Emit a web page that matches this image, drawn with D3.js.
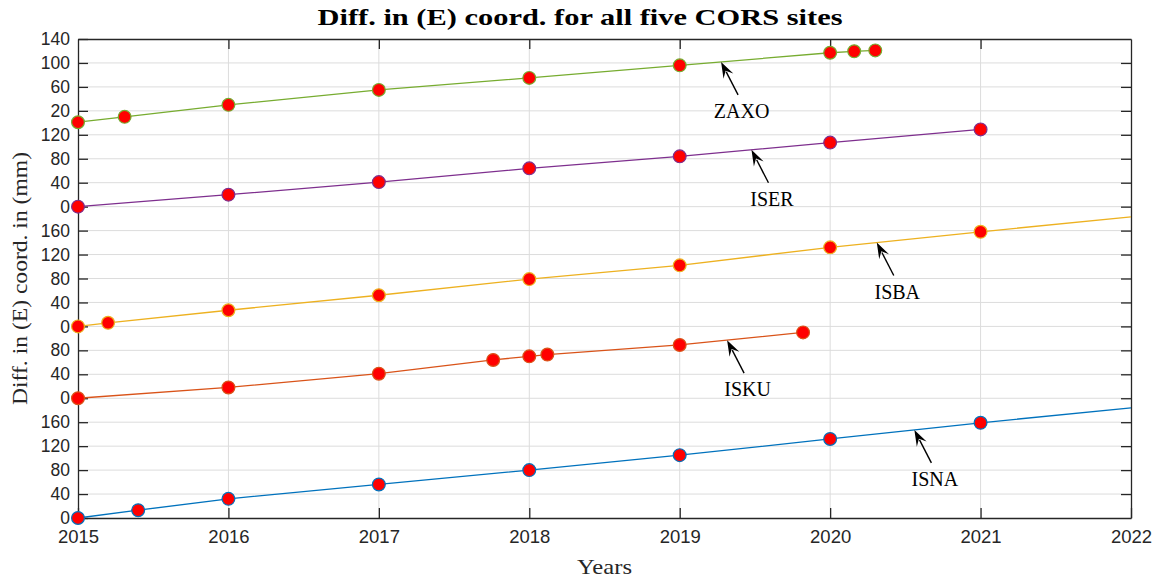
<!DOCTYPE html>
<html>
<head>
<meta charset="utf-8">
<script src="https://cdn.jsdelivr.net/npm/d3@7"></script>
<style>
  html, body { margin: 0; padding: 0; background: #fff; }
  svg { display: block; }
</style>
</head>
<body>
<svg id="chart" width="1161" height="578"></svg>
<script>
// Stacked E-coordinate differences for the five CORS sites.
// Each site sits on a shared y axis, shifted up by a fixed offset (mm).

const siteNames   = ['ISNA', 'ISKU', 'ISBA', 'ISER', 'ZAXO'];
const siteOffsets = [0, 200, 320, 520, 660];
const siteColours = ['#0072BD', '#D95319', '#EDB120', '#7E2F8E', '#77AC30'];

const isnaYears = [2015, 2015.4, 2016, 2017, 2018, 2019, 2020, 2021];
const isnaE     = [0, 13, 32, 56, 80, 105, 132, 159];

const iskuYears = [2015, 2016, 2017, 2017.76, 2018, 2018.12, 2019, 2019.82];
const iskuE     = [0, 18, 41, 64, 70, 73, 89, 110];

const isbaYears = [2015, 2015.2, 2016, 2017, 2018, 2019, 2020, 2021];
const isbaE     = [0, 6, 27, 52, 79, 102, 132, 158];

const iserYears = [2015, 2016, 2017, 2018, 2019, 2020, 2021];
const iserE     = [0, 20, 41, 64, 84, 107, 129];

const zaxoYears = [2015, 2015.31, 2016, 2017, 2018, 2019, 2020, 2020.16, 2020.3];
const zaxoE     = [1, 10, 30, 55, 75, 96, 117, 119.5, 121];

// trend continues to the end of the x range for these two sites
const trendEndYear = 2022;
const trendEnd     = { ISNA: 184, ISBA: 183 };

// y tick labels, bottom to top (one every 40 mm of offset space)
const yTickLabels = [0, 40, 80, 120, 160, 0, 40, 80, 0, 40, 80, 120, 160,
                     0, 40, 80, 120, 20, 60, 100, 140];
const xTickYears  = [2015, 2016, 2017, 2018, 2019, 2020, 2021, 2022];

// arrow annotations: tip year on each site's line
const noteSites = ['ZAXO', 'ISER', 'ISBA', 'ISKU', 'ISNA'];
const noteYears = [2019.275, 2019.477, 2020.31, 2019.315, 2020.56];

const W = 1161, H = 578;
const m = { top: 39, right: 30, bottom: 60, left: 78 };
const iw = W - m.left - m.right;
const ih = H - m.top - m.bottom;
const ink = '#262626';
const serif = '"Liberation Serif", "Times New Roman", serif';

const svg = d3.select('#chart');
const g = svg.append('g').attr('transform', `translate(${m.left},${m.top})`);

const x = d3.scaleLinear().domain([2015, 2022]).range([0, iw]);
const y = d3.scaleLinear().domain([0, 800]).range([ih, 0]);
const yTicks = d3.range(0, 801, 40);

const rawYears = [isnaYears, iskuYears, isbaYears, iserYears, zaxoYears];
const rawE     = [isnaE, iskuE, isbaE, iserE, zaxoE];

const sites = siteNames.map((name, i) => {
  const pts = rawYears[i].map((t, j) => ({ t, v: rawE[i][j] + siteOffsets[i] }));
  const line = pts.slice();
  if (trendEnd[name] != null) line.push({ t: trendEndYear, v: trendEnd[name] + siteOffsets[i] });
  return { name, colour: siteColours[i], pts, line };
});

// grid
g.append('g').selectAll('line').data(yTicks.slice(1, -1)).join('line')
  .attr('x1', 0).attr('x2', iw)
  .attr('y1', d => y(d)).attr('y2', d => y(d))
  .attr('stroke', '#dcdcdc').attr('stroke-width', 1);
g.append('g').selectAll('line').data(xTickYears.slice(1, -1)).join('line')
  .attr('y1', 0).attr('y2', ih)
  .attr('x1', d => x(d)).attr('x2', d => x(d))
  .attr('stroke', '#dcdcdc').attr('stroke-width', 1);

// axes (ticks point inward, box on all four sides)
const tickLen = 10;
const yAxis = d3.axisLeft(y).tickValues(yTicks)
  .tickFormat((d, i) => yTickLabels[i]).tickSizeInner(-tickLen).tickSizeOuter(0).tickPadding(8);
const yAxisR = d3.axisRight(y).tickValues(yTicks.slice(1, -1))
  .tickFormat('').tickSizeInner(-tickLen).tickSizeOuter(0);
const xAxis = d3.axisBottom(x).tickValues(xTickYears).tickFormat(d3.format('d'))
  .tickSizeInner(-tickLen).tickSizeOuter(0).tickPadding(12);
const xAxisT = d3.axisTop(x).tickValues(xTickYears.slice(1, -1))
  .tickFormat('').tickSizeInner(-tickLen).tickSizeOuter(0);

function styleAxis(sel, size) {
  sel.select('.domain').attr('stroke', ink).attr('stroke-width', 1.3);
  sel.selectAll('.tick line').attr('stroke', ink).attr('stroke-width', 1.3);
  sel.selectAll('.tick text').attr('fill', ink)
    .attr('font-family', '"Liberation Sans", Arial, sans-serif').attr('font-size', size);
}

g.append('g').call(yAxis).call(s => styleAxis(s, 17.5));
g.append('g').attr('transform', `translate(${iw},0)`).call(yAxisR).call(s => styleAxis(s, 17));
g.append('g').attr('transform', `translate(0,${ih})`).call(xAxis).call(s => styleAxis(s, 18.5));
g.append('g').call(xAxisT).call(s => styleAxis(s, 17));

// series
const lineGen = d3.line().x(d => x(d.t)).y(d => y(d.v));
const series = g.append('g').selectAll('g').data(sites).join('g');
series.append('path')
  .attr('d', d => lineGen(d.line))
  .attr('fill', 'none').attr('stroke', d => d.colour).attr('stroke-width', 1.3);
series.selectAll('circle').data(d => d.pts.map(p => ({ ...p, colour: d.colour }))).join('circle')
  .attr('cx', d => x(d.t)).attr('cy', d => y(d.v)).attr('r', 6.4)
  .attr('fill', '#ff0000').attr('stroke', d => d.colour).attr('stroke-width', 1.2);

// value on a site's drawn line at year t
function lineAt(site, t) {
  const L = site.line;
  for (let i = 1; i < L.length; i++) {
    if (t <= L[i].t) {
      const a = L[i - 1], b = L[i];
      return a.v + (b.v - a.v) * (t - a.t) / (b.t - a.t);
    }
  }
  return L[L.length - 1].v;
}

// arrows + labels
const tailDx = 17, tailDy = 33, headL = 16, headW = 11;
const notes = g.append('g');
noteSites.forEach((name, i) => {
  const site = sites.find(s => s.name === name);
  const tx = x(noteYears[i]);
  const ty = y(lineAt(site, noteYears[i]));
  const ex = tx + tailDx, ey = ty + tailDy;
  const len = Math.hypot(tailDx, tailDy);
  const ux = tailDx / len, uy = tailDy / len;   // tip -> tail
  const px = -uy, py = ux;
  notes.append('line')
    .attr('x1', tx + ux * headL * 0.7).attr('y1', ty + uy * headL * 0.7)
    .attr('x2', ex).attr('y2', ey)
    .attr('stroke', '#000').attr('stroke-width', 1.4);
  const head = [
    [tx, ty],
    [tx + ux * headL + px * headW / 2, ty + uy * headL + py * headW / 2],
    [tx + ux * headL * 0.62, ty + uy * headL * 0.62],
    [tx + ux * headL - px * headW / 2, ty + uy * headL - py * headW / 2]
  ];
  notes.append('path').attr('d', 'M' + head.join('L') + 'Z').attr('fill', '#000');
  notes.append('text')
    .attr('x', tx + 20.5).attr('y', ty + 56)
    .attr('text-anchor', 'middle')
    .attr('font-family', serif)
    .attr('font-size', 20).attr('fill', '#000')
    .text(name);
});

// title + axis labels (widths matched to the reference's wider serif face)
svg.append('text')
  .attr('x', 580).attr('y', 25).attr('text-anchor', 'middle')
  .attr('font-family', serif)
  .attr('font-weight', 'bold').attr('font-size', 23).attr('fill', '#000')
  .attr('textLength', 525).attr('lengthAdjust', 'spacingAndGlyphs')
  .text('Diff. in (E) coord. for all five CORS sites');

svg.append('text')
  .attr('x', m.left + iw / 2).attr('y', 574).attr('text-anchor', 'middle')
  .attr('font-family', serif)
  .attr('font-size', 21).attr('fill', ink)
  .attr('textLength', 55).attr('lengthAdjust', 'spacingAndGlyphs')
  .text('Years');

svg.append('text')
  .attr('transform', `translate(27,${m.top + ih / 2}) rotate(-90)`)
  .attr('text-anchor', 'middle')
  .attr('font-family', serif)
  .attr('font-size', 21).attr('fill', ink)
  .attr('textLength', 253).attr('lengthAdjust', 'spacingAndGlyphs')
  .text('Diff. in (E) coord. in (mm)');
</script>
</body>
</html>
